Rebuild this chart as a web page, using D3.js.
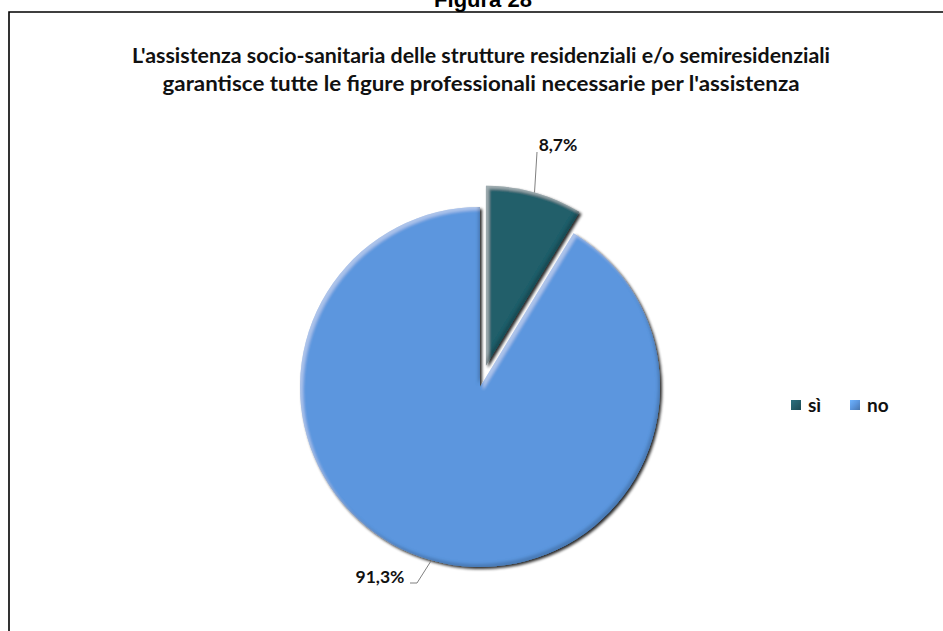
<!DOCTYPE html>
<html>
<head>
<meta charset="utf-8">
<script src="https://cdn.jsdelivr.net/npm/d3@7"></script>
<style>
  html, body { margin: 0; padding: 0; background: #fff; }
  svg { display: block; }
</style>
</head>
<body>
<svg id="chart" width="943" height="631"></svg>
<script>
// Answers to the survey question
const categories = ["sì", "no"];
const values = [8.7, 91.3];
const valueLabels = ["8,7%", "91,3%"];
const colors = ["#245e6a", "#5b96de"];
const figureTitle = "Figura 28";
const titleLines = [
  "L'assistenza socio-sanitaria delle strutture residenziali e/o semiresidenziali",
  "garantisce tutte le figure professionali necessarie per l'assistenza"
];

const svg = d3.select("#chart");
const W = 943, H = 631;
const defs = svg.append("defs");

// soft shadow under the slices
const shadow = defs.append("filter").attr("id", "shadow")
  .attr("x", "-20%").attr("y", "-20%").attr("width", "140%").attr("height", "140%");
shadow.append("feGaussianBlur").attr("in", "SourceAlpha").attr("stdDeviation", 1.8).attr("result", "b");
shadow.append("feOffset").attr("in", "b").attr("dx", 1.5).attr("dy", 2).attr("result", "o");
shadow.append("feComponentTransfer").attr("in", "o").attr("result", "s")
  .append("feFuncA").attr("type", "linear").attr("slope", 0.85);
const sm = shadow.append("feMerge");
sm.append("feMergeNode").attr("in", "s");
sm.append("feMergeNode").attr("in", "SourceGraphic");

// bevelled edges: light band along the upper-left edges, dark band along the lower-right ones
const bevel = defs.append("filter").attr("id", "bevel")
  .attr("x", "-10%").attr("y", "-10%").attr("width", "120%").attr("height", "120%");
bevel.append("feGaussianBlur").attr("in", "SourceAlpha").attr("stdDeviation", 1.6).attr("result", "blur");
bevel.append("feOffset").attr("in", "blur").attr("dx", 2.5).attr("dy", 3).attr("result", "down");
bevel.append("feOffset").attr("in", "blur").attr("dx", -2.5).attr("dy", -3).attr("result", "up");
bevel.append("feComposite").attr("in", "SourceAlpha").attr("in2", "down").attr("operator", "out").attr("result", "hiBand");
bevel.append("feComposite").attr("in", "SourceAlpha").attr("in2", "up").attr("operator", "out").attr("result", "loBand");
bevel.append("feFlood").attr("flood-color", "#ffffff").attr("flood-opacity", 0.35).attr("result", "white");
bevel.append("feComposite").attr("in", "white").attr("in2", "hiBand").attr("operator", "in").attr("result", "hi");
bevel.append("feFlood").attr("flood-color", "#000000").attr("flood-opacity", 0.35).attr("result", "black");
bevel.append("feComposite").attr("in", "black").attr("in2", "loBand").attr("operator", "in").attr("result", "lo");
const bm = bevel.append("feMerge");
bm.append("feMergeNode").attr("in", "SourceGraphic");
bm.append("feMergeNode").attr("in", "hi");
bm.append("feMergeNode").attr("in", "lo");

// legend swatch gradients
colors.forEach((c, i) => {
  const g = defs.append("linearGradient").attr("id", "lg" + i)
    .attr("x1", "0").attr("y1", "0").attr("x2", "1").attr("y2", "1");
  g.append("stop").attr("offset", "0").attr("stop-color", d3.color(c).brighter(0.5));
  g.append("stop").attr("offset", "0.5").attr("stop-color", c);
  g.append("stop").attr("offset", "1").attr("stop-color", d3.color(c).darker(0.7));
});

// page figure caption and frame
svg.append("text")
  .attr("x", 483).attr("y", 7)
  .attr("text-anchor", "middle")
  .attr("font-family", "Liberation Sans, Arial, sans-serif")
  .attr("font-weight", "bold").attr("font-size", 22)
  .text(figureTitle);

svg.append("path")
  .attr("d", `M9,${H + 5} L9,12 L${W + 5},12`)
  .attr("fill", "none").attr("stroke", "#000").attr("stroke-width", 1.6);

// chart title
const titleWidths = [698, 637];
svg.append("g").selectAll("text").data(titleLines).join("text")
  .attr("x", 481).attr("y", (d, i) => 63 + i * 28)
  .attr("text-anchor", "middle")
  .attr("font-family", "Lato, 'Open Sans', sans-serif")
  .attr("font-weight", "bold").attr("font-size", 20)
  .attr("fill", "#111")
  .attr("textLength", (d, i) => titleWidths[i])
  .attr("lengthAdjust", "spacingAndGlyphs")
  .text(d => d);

// pie
const cx = 480, cy = 387, R = 180, explode = 22;
const pie = d3.pie().sort(null).value(d => d).startAngle(0).endAngle(2 * Math.PI);
const arcs = pie(values);
const arc = d3.arc().innerRadius(0).outerRadius(R);

const offset = (d, i) => {
  if (i !== 0) return [0, 0];
  const a = (d.startAngle + d.endAngle) / 2;
  return [Math.sin(a) * explode, -Math.cos(a) * explode];
};

const gPie = svg.append("g").attr("transform", `translate(${cx},${cy})`);
gPie.selectAll("g.slice").data(arcs).join("g")
  .attr("class", "slice")
  .attr("filter", "url(#shadow)")
  .attr("transform", (d, i) => { const o = offset(d, i); return `translate(${o[0]},${o[1]})`; })
  .append("path")
  .attr("d", arc)
  .attr("fill", (d, i) => colors[i])
  .attr("filter", "url(#bevel)");

// data labels with leader lines
const labelFont = "Lato, 'Open Sans', sans-serif";
const labelPos = [[558, 152], [380, 583]];
arcs.forEach((d, i) => {
  const o = offset(d, i);
  const a = (d.startAngle + d.endAngle) / 2;
  const px = cx + o[0] + Math.sin(a) * R;
  const py = cy + o[1] - Math.cos(a) * R;
  const [lx, ly] = labelPos[i];
  const pts = i === 0
    ? [[px, py], [lx - 21, ly]]
    : [[px, py], [lx + 37, ly], [lx + 30, ly]];
  svg.append("path")
    .attr("d", d3.line()(pts))
    .attr("fill", "none").attr("stroke", "#808080").attr("stroke-width", 1);
  svg.append("text")
    .attr("x", lx).attr("y", i === 0 ? ly - 1 : ly)
    .attr("text-anchor", "middle")
    .attr("font-family", labelFont)
    .attr("font-weight", "bold").attr("font-size", 17.5)
    .attr("fill", "#111")
    .text(valueLabels[i]);
});

// legend
const legendX = [791, 850];
const lg = svg.append("g");
categories.forEach((c, i) => {
  lg.append("rect")
    .attr("x", legendX[i]).attr("y", 400).attr("width", 10).attr("height", 10)
    .attr("fill", `url(#lg${i})`);
  lg.append("text")
    .attr("x", legendX[i] + 17).attr("y", 412)
    .attr("font-family", labelFont)
    .attr("font-weight", "bold").attr("font-size", 19)
    .attr("fill", "#111")
    .text(c);
});
</script>
</body>
</html>
